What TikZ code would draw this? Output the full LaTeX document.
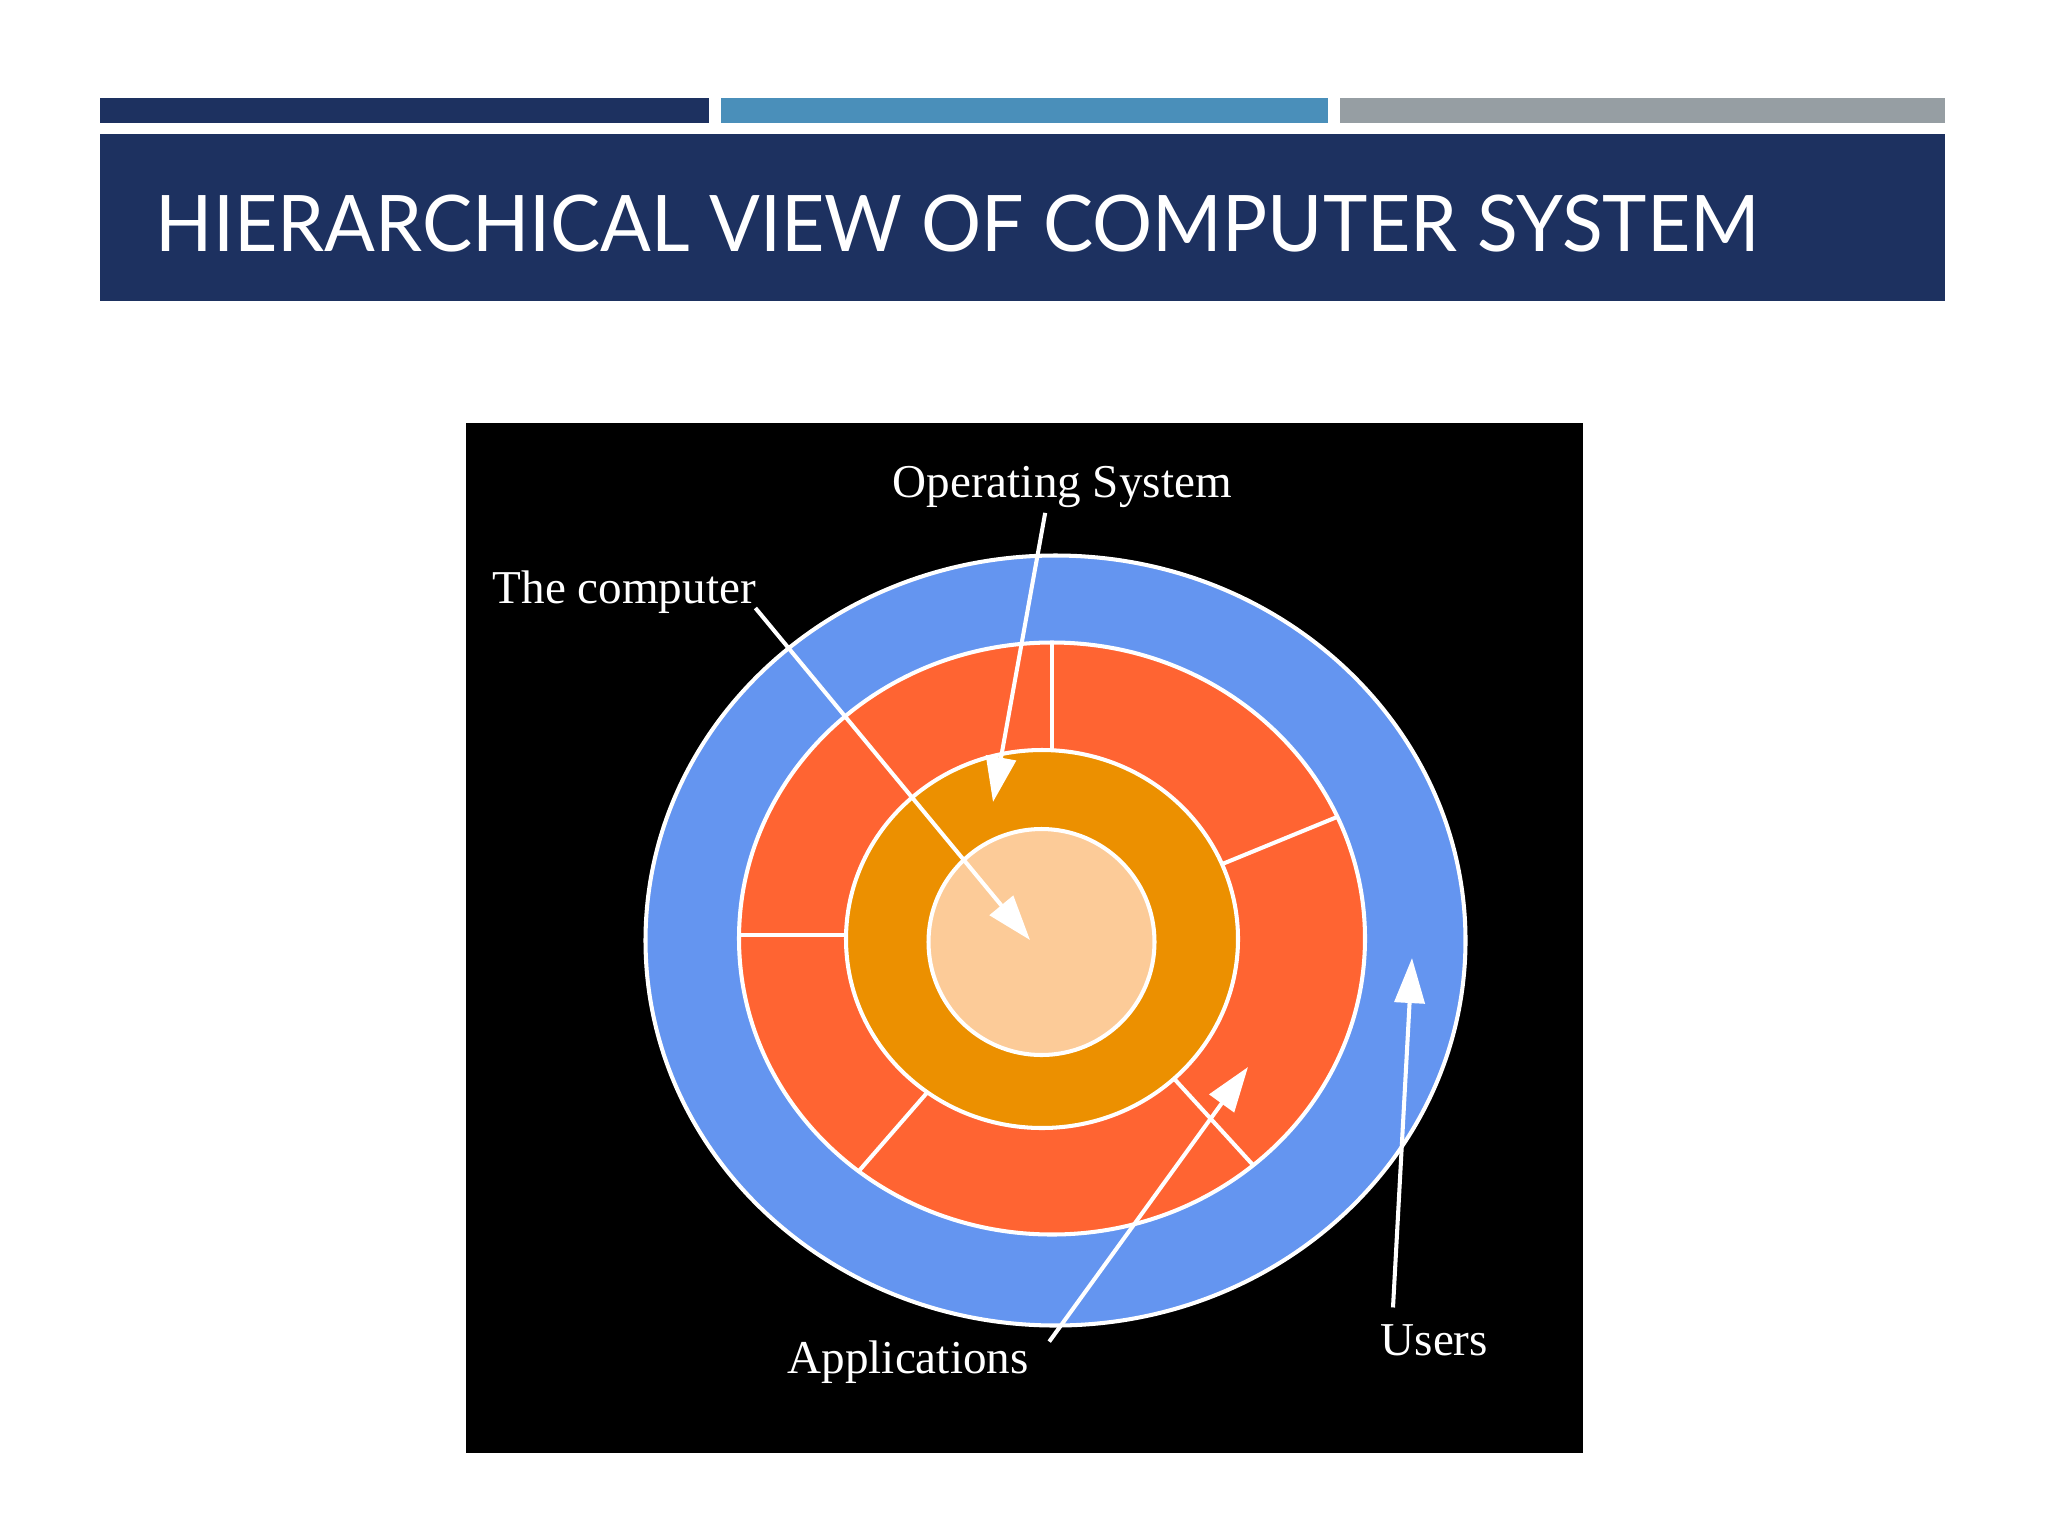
\documentclass[tikz,border=0pt]{standalone}
\usepackage{graphicx}
\usepackage{fontspec}
\setmainfont{Liberation Serif}
\newfontfamily\titlefont{Lato}
\usetikzlibrary{arrows.meta}

\definecolor{navy}{RGB}{29,49,96}
\definecolor{barblue}{RGB}{74,143,186}
\definecolor{bargray}{RGB}{150,158,163}
\definecolor{userblue}{RGB}{100,149,240}
\definecolor{appred}{RGB}{255,100,50}
\definecolor{osorange}{RGB}{236,144,0}
\definecolor{hwpeach}{RGB}{252,203,152}

\begin{document}
\begin{tikzpicture}[
   x=0.01cm, y=-0.01cm,   % <-- one unit is one pixel, y runs down
   ring/.style={draw=white, line width=1.15pt},
   divider/.style={draw=white, line width=1.15pt},
   lbl/.style={text=white, inner sep=0pt, anchor=base west,
               font=\fontsize{13.4}{16}\selectfont},
   pointer/.style={draw=white, line width=1.15pt,
                   -{Triangle[length=0.45cm, width=0.3cm]}}
]
\useasboundingbox (0,0) rectangle (2048,1536);

% header
\fill[navy]    (100,98) rectangle (709,123);
\fill[barblue] (721,98) rectangle (1328,123);
\fill[bargray] (1340,98) rectangle (1945,123);
\fill[navy]    (100,134) rectangle (1945,301);
\node[anchor=base west, inner sep=0pt, text=white,
      font=\titlefont\fontsize{22.2}{26}\selectfont] (title) at (155,251)
      {\scalebox{0.962}[1]{HIERARCHICAL VIEW OF COMPUTER SYSTEM}};

% rings
\fill[black] (466,423) rectangle (1583,1453);
\filldraw[ring, fill=userblue] (1055.5,940.5) ellipse [x radius=410, y radius=385];
\filldraw[ring, fill=appred]   (1052,938.5) ellipse [x radius=313, y radius=296];
\draw[divider] (1052,642) -- (1052,760);
\draw[divider] (1337,817) -- (1215,867);
\draw[divider] (1253,1165) -- (1168,1072);
\draw[divider] (858,1172) -- (932,1087);
\draw[divider] (739,935) -- (860,935);
\filldraw[ring, fill=osorange] (1042,939) ellipse [x radius=196, y radius=189];
\filldraw[ring, fill=hwpeach]  (1041.5,942) ellipse [x radius=113, y radius=113];

% labels
\node[lbl] (os)       at (892,497)   {Operating System};
\node[lbl] (computer) at (492,603)   {The computer};
\node[lbl] (apps)     at (787,1373)  {Applications};
\node[lbl] (users)    at (1380,1355) {Users};

\coordinate (hwtip)   at (1030,940);
\coordinate (ostip)   at (993,802);
\coordinate (apptip)  at (1248,1067);
\coordinate (usertip) at (1412,958);

\draw[pointer] ([shift={(-1,5)}]computer.base east) -- (hwtip);
\draw[pointer] ([shift={(-17,5)}]os.south) -- (ostip);
\draw[pointer] ([shift={(20,2)}]apps.north east) -- (apptip);
\draw[pointer] ([shift={(13,-16)}]users.north west) -- (usertip);
\end{tikzpicture}
\end{document}
